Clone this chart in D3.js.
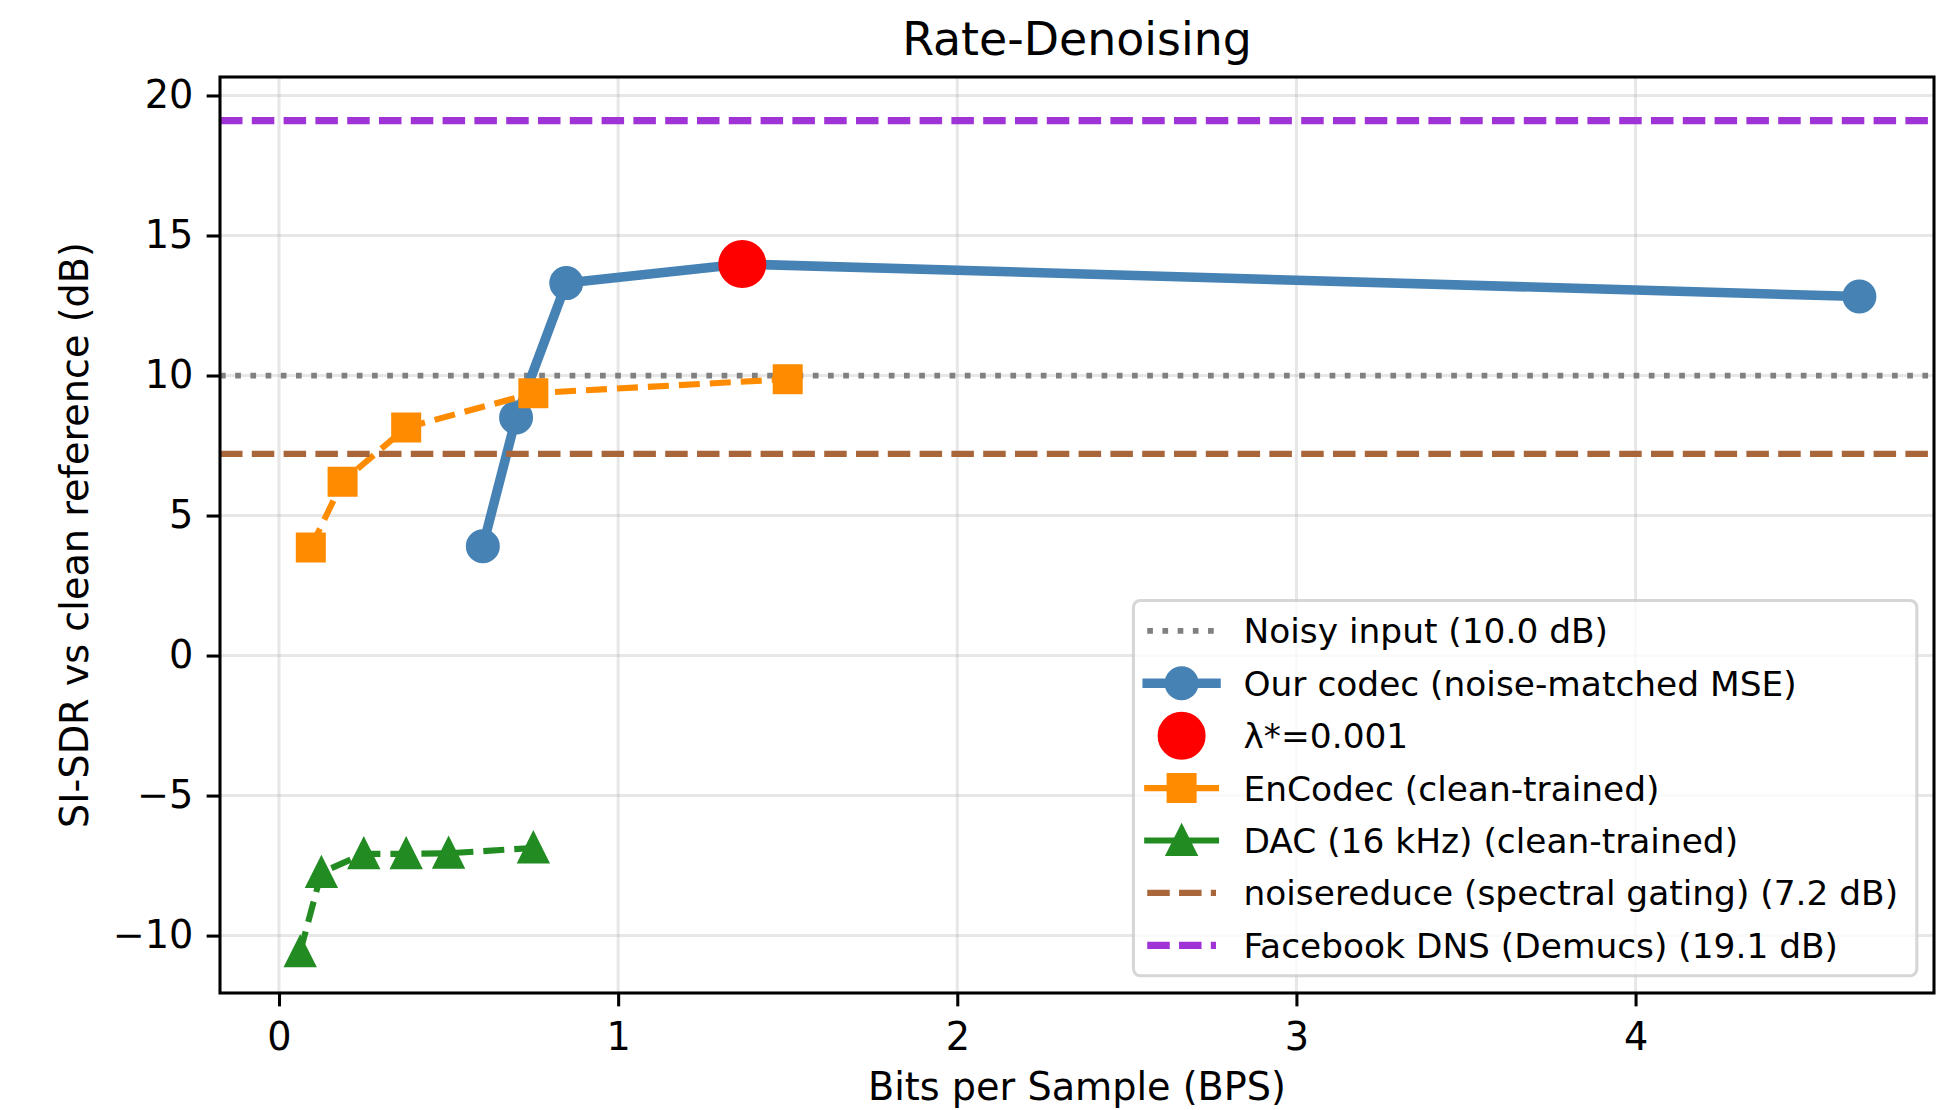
<!DOCTYPE html>
<html>
<head>
<meta charset="utf-8">
<script src="https://cdn.jsdelivr.net/npm/d3@7"></script>
<style>
  body { margin: 0; background: #fff; }
  svg text { font-family: "DejaVu Sans", sans-serif; fill: #000; }
</style>
</head>
<body>
<svg id="chart" width="1937" height="1110"></svg>
<script>
// ---- data -------------------------------------------------------------
const xTicks = [0, 1, 2, 3, 4];
const yTicks = [-10, -5, 0, 5, 10, 15, 20];

// Our codec, swept over the rate-distortion trade-off
const oursBps = [0.601, 0.699, 0.847, 1.366, 4.660];
const oursSdr = [3.90, 8.50, 13.30, 13.98, 12.82];

// Selected operating point
const bestBps = [1.366];
const bestSdr = [13.98];

// EnCodec at 1.5 / 3 / 6 / 12 / 24 kbps (16 kHz audio)
const encodecBps = [0.09375, 0.1875, 0.375, 0.75, 1.5];
const encodecSdr = [3.86, 6.21, 8.14, 9.37, 9.87];

// DAC 16 kHz at increasing codebook counts
const dacBps = [0.0625, 0.125, 0.25, 0.375, 0.5, 0.75];
const dacSdr = [-10.58, -7.75, -7.08, -7.08, -7.06, -6.87];

// Reference levels (dB)
const noisyLevel = 10.0;
const noisereduceLevel = 7.2;
const dnsLevel = 19.1;

// ---- layout -----------------------------------------------------------
const W = 1937, H = 1110;
const plot = { left: 220, right: 1934, top: 77, bottom: 993 };
const PT = 3.82;                        // pixels per typographic point
const fs = { tick: 10 * PT, label: 10 * PT, title: 12 * PT, legend: 9 * PT };

const svg = d3.select('#chart');

const x = d3.scaleLinear().domain([-0.174, 4.88]).range([plot.left, plot.right]);
const y = d3.scaleLinear().domain([-12.05, 20.66]).range([plot.bottom, plot.top]);

const zip = (xs, ys) => xs.map((v, i) => [v, ys[i]]);

svg.append('defs').append('clipPath').attr('id', 'plot-clip')
  .append('rect')
  .attr('x', plot.left).attr('y', plot.top)
  .attr('width', plot.right - plot.left).attr('height', plot.bottom - plot.top);

// ---- grid -------------------------------------------------------------
const grid = svg.append('g').attr('stroke', '#b0b0b0').attr('stroke-opacity', 0.3)
  .attr('stroke-width', 0.8 * PT);
grid.selectAll('line.gx').data(xTicks).join('line').attr('class', 'gx')
  .attr('x1', d => x(d)).attr('x2', d => x(d))
  .attr('y1', plot.top).attr('y2', plot.bottom);
grid.selectAll('line.gy').data(yTicks).join('line').attr('class', 'gy')
  .attr('y1', d => y(d)).attr('y2', d => y(d))
  .attr('x1', plot.left).attr('x2', plot.right);

// ---- series styles ----------------------------------------------------
const styles = {
  noisy:       { color: '#808080', width: 1.5 * PT, dash: '5.7,9.5' },
  ours:        { color: '#4682b4', width: 2.5 * PT, marker: 'circle', size: 34 },
  best:        { color: '#ff0000', marker: 'circle', size: 48 },
  encodec:     { color: '#ff8c00', width: 1.6 * PT, dash: '21,10', marker: 'square', size: 30 },
  dac:         { color: '#228b22', width: 1.6 * PT, dash: '21,10', marker: 'triangle', size: 31 },
  noisereduce: { color: '#a9663a', width: 1.6 * PT, dash: '22.5,9.3' },
  dns:         { color: '#a033d6', width: 1.9 * PT, dash: '22.5,9.3' }
};

const layer = svg.append('g').attr('clip-path', 'url(#plot-clip)');

function hline(level, st) {
  layer.append('line')
    .attr('x1', plot.left).attr('x2', plot.right)
    .attr('y1', y(level)).attr('y2', y(level))
    .attr('stroke', st.color).attr('stroke-width', st.width)
    .attr('stroke-dasharray', st.dash).attr('stroke-linecap', 'butt');
}

function markerPath(kind, s) {
  const h = s / 2;
  if (kind === 'square') return `M${-h},${-h}H${h}V${h}H${-h}Z`;
  if (kind === 'triangle') return `M0,${-h}L${h},${h}L${-h},${h}Z`;
  return d3.symbol(d3.symbolCircle, Math.PI * h * h)();
}

function drawMarkers(g, pts, st) {
  const edge = 1.0 * PT;
  g.selectAll(null).data(pts).join('path')
    .attr('transform', d => `translate(${x(d[0])},${y(d[1])})`)
    .attr('d', markerPath(st.marker, st.size - edge))
    .attr('fill', st.color).attr('stroke', st.color)
    .attr('stroke-width', edge).attr('stroke-linejoin', 'miter');
}

function series(pts, st) {
  const line = d3.line().x(d => x(d[0])).y(d => y(d[1]));
  if (st.width) {
    layer.append('path').datum(pts)
      .attr('d', line).attr('fill', 'none')
      .attr('stroke', st.color).attr('stroke-width', st.width)
      .attr('stroke-dasharray', st.dash || null)
      .attr('stroke-linejoin', 'round')
      .attr('stroke-linecap', st.dash ? 'butt' : 'round');
  }
  drawMarkers(layer.append('g'), pts, st);
}

hline(noisyLevel, styles.noisy);
series(zip(oursBps, oursSdr), styles.ours);
series(zip(bestBps, bestSdr), styles.best);
series(zip(encodecBps, encodecSdr), styles.encodec);
series(zip(dacBps, dacSdr), styles.dac);
hline(noisereduceLevel, styles.noisereduce);
hline(dnsLevel, styles.dns);

// ---- axes -------------------------------------------------------------
const tickLen = 3.5 * PT;
const xAxis = svg.append('g').attr('transform', `translate(0,${plot.bottom})`)
  .call(d3.axisBottom(x).tickValues(xTicks).tickSize(tickLen).tickPadding(16.5)
        .tickFormat(d3.format('d')));
const yAxis = svg.append('g').attr('transform', `translate(${plot.left},0)`)
  .call(d3.axisLeft(y).tickValues(yTicks).tickSize(tickLen).tickPadding(13.4)
        .tickFormat(d3.format('d')));
[xAxis, yAxis].forEach(a => {
  a.select('.domain').remove();
  a.selectAll('.tick line').attr('stroke', '#000').attr('stroke-width', 0.8 * PT);
  a.selectAll('.tick text').attr('font-size', fs.tick)
    .attr('font-family', '"DejaVu Sans", sans-serif').attr('fill', '#000');
});

// spines
svg.append('rect')
  .attr('x', plot.left).attr('y', plot.top)
  .attr('width', plot.right - plot.left).attr('height', plot.bottom - plot.top)
  .attr('fill', 'none').attr('stroke', '#000').attr('stroke-width', 0.8 * PT);

// ---- titles -----------------------------------------------------------
const cx = (plot.left + plot.right) / 2;
svg.append('text').attr('x', cx).attr('y', 55)
  .attr('text-anchor', 'middle').attr('font-size', fs.title)
  .text('Rate-Denoising');
svg.append('text').attr('x', cx).attr('y', 1100)
  .attr('text-anchor', 'middle').attr('font-size', fs.label)
  .text('Bits per Sample (BPS)');
svg.append('text')
  .attr('transform', `translate(88,${(plot.top + plot.bottom) / 2}) rotate(-90)`)
  .attr('text-anchor', 'middle').attr('font-size', fs.label)
  .text('SI-SDR vs clean reference (dB)');

// ---- legend -----------------------------------------------------------
const legendItems = [
  { label: `Noisy input (${noisyLevel.toFixed(1)} dB)`, st: styles.noisy, line: true },
  { label: 'Our codec (noise-matched MSE)', st: styles.ours, line: true },
  { label: 'λ*=0.001', st: styles.best, line: false },
  { label: 'EnCodec (clean-trained)', st: styles.encodec, line: true, solid: true },
  { label: 'DAC (16 kHz) (clean-trained)', st: styles.dac, line: true, solid: true },
  { label: `noisereduce (spectral gating) (${noisereduceLevel.toFixed(1)} dB)`, st: styles.noisereduce, line: true },
  { label: `Facebook DNS (Demucs) (${dnsLevel.toFixed(1)} dB)`, st: styles.dns, line: true }
];

const em = fs.legend;
const pad = 0.4 * em, handleLen = 2.0 * em, handleGap = 0.8 * em, axPad = 0.5 * em;
const rowStep = 52.4, rowFirst = 30.5;
const legend = svg.append('g');
const frame = legend.append('rect');
const texts = legend.selectAll('text').data(legendItems).join('text')
  .attr('font-size', em)
  .attr('x', pad + handleLen + handleGap)
  .attr('y', (d, i) => rowFirst + i * rowStep + 0.365 * em)
  .text(d => d.label);
let maxW = 0;
texts.each(function () { maxW = Math.max(maxW, this.getComputedTextLength()); });
const lw = pad + handleLen + handleGap + maxW + pad + 5;
const lh = rowFirst * 2 + (legendItems.length - 1) * rowStep;
const lx = plot.right - axPad - lw, ly = plot.bottom - axPad - lh;
legend.attr('transform', `translate(${lx},${ly})`);
frame.attr('x', 0).attr('y', 0).attr('width', lw).attr('height', lh)
  .attr('rx', 0.2 * em).attr('ry', 0.2 * em)
  .attr('fill', '#fff').attr('fill-opacity', 0.8)
  .attr('stroke', '#cccccc').attr('stroke-opacity', 0.8).attr('stroke-width', 0.8 * PT);
texts.raise();

legendItems.forEach((it, i) => {
  const cy = rowFirst + i * rowStep;
  const g = legend.append('g');
  const st = it.st;
  if (it.line) {
    g.append('line')
      .attr('x1', pad).attr('x2', pad + handleLen).attr('y1', cy).attr('y2', cy)
      .attr('stroke', st.color).attr('stroke-width', st.width)
      .attr('stroke-dasharray', it.solid ? null : (st.dash || null))
      .attr('stroke-linecap', st.dash && !it.solid ? 'butt' : 'square');
  }
  if (st.marker) {
    const edge = 1.0 * PT;
    g.append('path')
      .attr('transform', `translate(${pad + handleLen / 2},${cy})`)
      .attr('d', markerPath(st.marker, st.size - edge))
      .attr('fill', st.color).attr('stroke', st.color).attr('stroke-width', edge);
  }
});
</script>
</body>
</html>
